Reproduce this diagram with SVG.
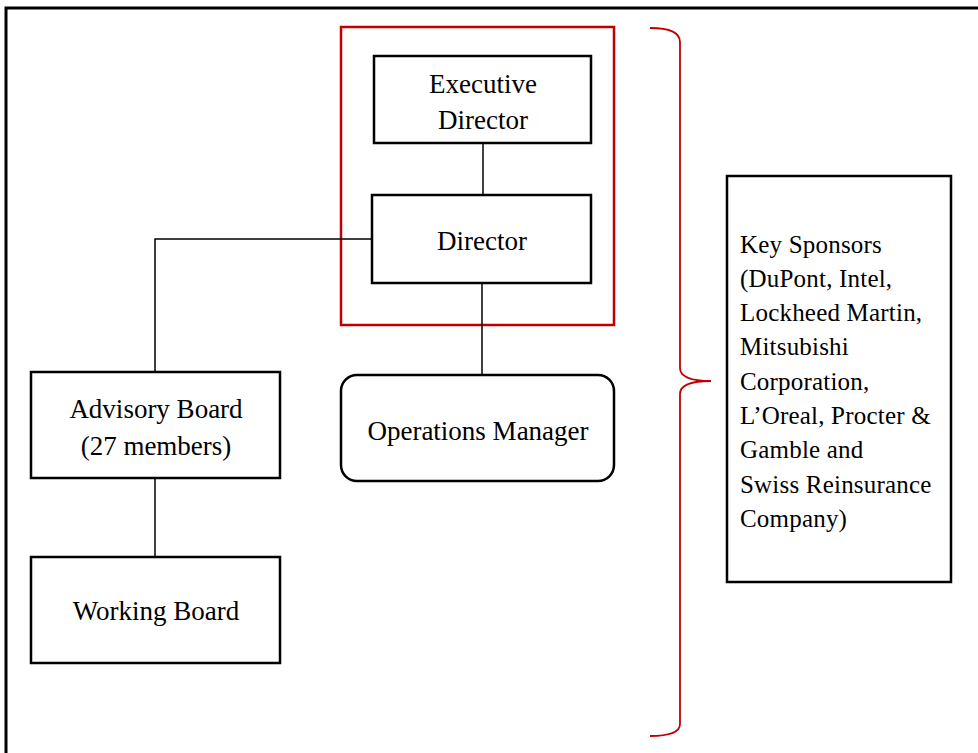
<svg xmlns="http://www.w3.org/2000/svg" width="978" height="753" viewBox="0 0 978 753">
<style>
.box{fill:#fff;stroke:#000;stroke-width:2.5}
.t{font-family:"Liberation Serif","Times New Roman",serif;font-size:27px;fill:#000;text-anchor:middle}
.s{font-family:"Liberation Serif","Times New Roman",serif;font-size:25px;letter-spacing:0.2px;fill:#000}
.c{fill:none;stroke:#000;stroke-width:1.5}
</style>
<rect width="978" height="753" fill="#fff"/>
<path d="M6,753 V8 H978" fill="none" stroke="#000" stroke-width="3"/>
<g id="group-frame">
<rect x="341" y="27" width="273" height="298" fill="none" stroke="#c00000" stroke-width="2.5"/>
</g>
<g id="brace">
<path d="M650,28 Q680,28 680,42 V368 Q680,381 711,381 Q680,381 680,394 V724 Q680,736 650,736" fill="none" stroke="#c00000" stroke-width="1.8"/>
</g>
<g id="connectors">
<path class="c" d="M483,143 V195"/>
<path class="c" d="M372,239 H155 V372"/>
<path class="c" d="M482,283 V375"/>
<path class="c" d="M155,478 V557"/>
</g>
<g id="executive-director">
<rect class="box" x="374" y="56" width="217" height="87"/>
<text class="t" x="483" y="93">Executive</text>
<text class="t" x="483" y="129">Director</text>
</g>
<g id="director">
<rect class="box" x="372" y="195" width="219" height="88"/>
<text class="t" x="482" y="250">Director</text>
</g>
<g id="advisory-board">
<rect class="box" x="31" y="372" width="249" height="106"/>
<text class="t" x="156" y="418">Advisory Board</text>
<text class="t" x="156" y="455">(27 members)</text>
</g>
<g id="operations-manager">
<rect class="box" x="341" y="375" width="273" height="106" rx="16"/>
<text class="t" x="478" y="440">Operations Manager</text>
</g>
<g id="working-board">
<rect class="box" x="31" y="557" width="249" height="106"/>
<text class="t" x="156" y="620">Working Board</text>
</g>
<g id="key-sponsors">
<rect class="box" x="727" y="176" width="224" height="406"/>
<text class="s" x="740" y="253">Key Sponsors</text>
<text class="s" x="740" y="287">(DuPont, Intel,</text>
<text class="s" x="740" y="321">Lockheed Martin,</text>
<text class="s" x="740" y="355">Mitsubishi</text>
<text class="s" x="740" y="390">Corporation,</text>
<text class="s" x="740" y="424">L’Oreal, Procter &amp;</text>
<text class="s" x="740" y="458">Gamble and</text>
<text class="s" x="740" y="493">Swiss Reinsurance</text>
<text class="s" x="740" y="527">Company)</text>
</g>
</svg>
